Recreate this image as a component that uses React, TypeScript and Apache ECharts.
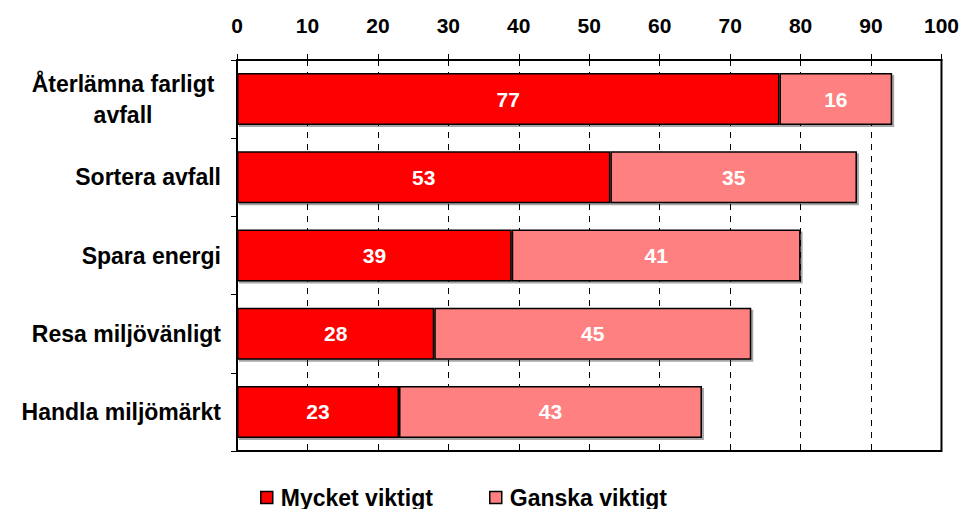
import React, { useEffect, useRef } from "react";
import * as echarts from "echarts";

const categories = [
  "Återlämna farligt\navfall",
  "Sortera avfall",
  "Spara energi",
  "Resa miljövänligt",
  "Handla miljömärkt",
];
const mycketViktigt = [77, 53, 39, 28, 23];
const ganskaViktigt = [16, 35, 41, 45, 43];
const seriesNames = ["Mycket viktigt", "Ganska viktigt"];
const xTicks = [0, 10, 20, 30, 40, 50, 60, 70, 80, 90, 100];
const seriesColors = ["#ff0000", "#ff8080"];

const FONT = "'Liberation Sans', Arial, sans-serif";

export default function App() {
  const ref = useRef<HTMLDivElement>(null);
  useEffect(() => {
    if (!ref.current) return;
    const chart = echarts.init(ref.current, null, { renderer: "svg" });
    const barLabel = {
      show: true,
      position: "inside",
      color: "#ffffff",
      fontWeight: "bold",
      fontSize: 21,
      fontFamily: FONT,
    };
    const legendBase = {
      top: 486,
      padding: 0,
      icon: "rect",
      itemWidth: 12,
      itemHeight: 12,
      itemStyle: { borderColor: "#000", borderWidth: 1.5 },
      textStyle: {
        fontFamily: FONT,
        fontWeight: "bold",
        fontSize: 23,
        color: "#000",
        padding: [0, 0, 0, 3],
      },
    };
    chart.setOption({
      animation: false,
      textStyle: { fontFamily: FONT },
      grid: {
        left: 237,
        right: 19,
        top: 60,
        bottom: 58,
        show: true,
        borderColor: "#000",
        borderWidth: 2,
        backgroundColor: "transparent",
      },
      legend: [
        { ...legendBase, left: 260, data: [seriesNames[0]] },
        { ...legendBase, left: 489, data: [seriesNames[1]] },
      ],
      xAxis: {
        type: "value",
        position: "top",
        min: xTicks[0],
        max: xTicks[xTicks.length - 1],
        interval: 10,
        axisLine: { show: true, lineStyle: { color: "#000", width: 2 } },
        axisTick: { show: true, length: 6, lineStyle: { color: "#000" } },
        axisLabel: {
          margin: 24,
          color: "#000",
          fontWeight: "bold",
          fontSize: 21,
          fontFamily: FONT,
        },
        splitLine: {
          show: true,
          lineStyle: { color: "#000", type: [6, 6], width: 1 },
        },
      },
      yAxis: {
        type: "category",
        inverse: true,
        data: categories,
        axisLine: { show: true, lineStyle: { color: "#000", width: 2 } },
        axisTick: { show: true, length: 6, lineStyle: { color: "#000" } },
        axisLabel: {
          margin: 16,
          color: "#000",
          fontWeight: "bold",
          fontSize: 23,
          fontFamily: FONT,
          lineHeight: 31,
          formatter: (v: string) =>
            v.indexOf("\n") >= 0
              ? v
                  .split("\n")
                  .map((s) => "{c|" + s + "}")
                  .join("\n")
              : v,
          rich: {
            c: {
              width: 196,
              align: "center",
              fontWeight: "bold",
              fontSize: 23,
              fontFamily: FONT,
              color: "#000",
              lineHeight: 31,
            },
          },
        },
      },
      series: [
        {
          name: seriesNames[0],
          type: "bar",
          stack: "total",
          data: mycketViktigt,
          barWidth: 52,
          itemStyle: {
            color: seriesColors[0],
            borderColor: "#000",
            borderWidth: 1.5,
            shadowColor: "rgba(0,0,0,0.35)",
            shadowOffsetX: 2,
            shadowOffsetY: 2,
            shadowBlur: 0,
          },
          label: barLabel,
        },
        {
          name: seriesNames[1],
          type: "bar",
          stack: "total",
          data: ganskaViktigt,
          barWidth: 52,
          itemStyle: {
            color: seriesColors[1],
            borderColor: "#000",
            borderWidth: 1.5,
            shadowColor: "rgba(0,0,0,0.35)",
            shadowOffsetX: 2,
            shadowOffsetY: 2,
            shadowBlur: 0,
          },
          label: barLabel,
        },
      ],
    });
    return () => chart.dispose();
  }, []);
  return (
    <div
      ref={ref}
      style={{
        position: "fixed",
        left: 0,
        top: 0,
        width: 962,
        height: 509,
        background: "#fff",
      }}
    />
  );
}
